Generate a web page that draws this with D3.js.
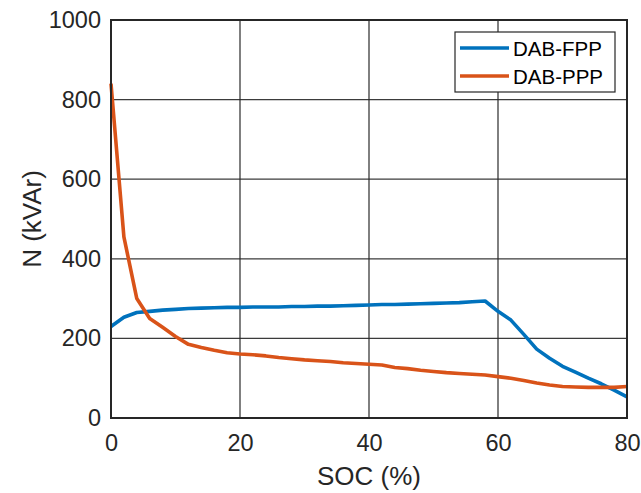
<!DOCTYPE html>
<html>
<head>
<meta charset="utf-8">
<script src="https://cdn.jsdelivr.net/npm/d3@7"></script>
<style>
  html, body { margin: 0; padding: 0; background: #fff; }
  svg { display: block; font-family: "Liberation Sans", Arial, sans-serif; }
</style>
</head>
<body>
<svg id="chart" width="641" height="493"></svg>
<script>
// State of charge (%) sample points
const soc = [0, 2, 4, 6, 8, 10, 12, 14, 16, 18, 20, 22, 24, 26, 28, 30, 32, 34, 36, 38,
             40, 42, 44, 46, 48, 50, 52, 54, 56, 58, 60, 62, 64, 66, 68, 70, 72, 74, 76, 78, 80];

// Reactive power N (kVAr) for each modulation scheme
const dabFPP = [230, 253, 265, 268, 271, 273, 275, 276, 277, 278, 278, 279, 279, 279, 280, 280, 281, 281, 282, 283,
                284, 285, 285, 286, 287, 288, 289, 290, 292, 294, 268, 246, 210, 173, 150, 130, 115, 100, 86, 70, 53];
const dabPPP = [840, 455, 300, 250, 228, 205, 185, 177, 170, 164, 161, 159, 156, 152, 149, 146, 144, 142, 139, 137,
                135, 133, 127, 124, 120, 117, 114, 112, 110, 108, 104, 100, 94, 88, 83, 79, 78, 77, 77, 77, 79];

const seriesNames = ["DAB-FPP", "DAB-PPP"];
const xTicks = [0, 20, 40, 60, 80];
const yTicks = [0, 200, 400, 600, 800, 1000];

const colors = ["#0072BD", "#D95319"];
const margin = { left: 111, top: 20, right: 641 - 627, bottom: 493 - 418 };
const W = 641, H = 493;

const svg = d3.select("#chart");
const x = d3.scaleLinear().domain([0, 80]).range([margin.left, W - margin.right]);
const y = d3.scaleLinear().domain([0, 1000]).range([H - margin.bottom, margin.top]);

// Grid
const grid = svg.append("g").attr("stroke", "#262626").attr("stroke-width", 1.3).attr("stroke-opacity", 0.9);
grid.selectAll("line.vx").data(xTicks).join("line")
  .attr("x1", d => x(d)).attr("x2", d => x(d))
  .attr("y1", y(0)).attr("y2", y(1000));
grid.selectAll("line.hy").data(yTicks).join("line")
  .attr("x1", x(0)).attr("x2", x(80))
  .attr("y1", d => y(d)).attr("y2", d => y(d));

// Axes
const xAxis = svg.append("g").attr("transform", `translate(0,${y(0)})`)
  .call(d3.axisBottom(x).tickValues(xTicks).tickSize(0).tickPadding(16).tickFormat(d3.format("d")));
const yAxis = svg.append("g").attr("transform", `translate(${x(0)},0)`)
  .call(d3.axisLeft(y).tickValues(yTicks).tickSize(0).tickPadding(10).tickFormat(d3.format("d")));
[xAxis, yAxis].forEach(a => {
  a.select(".domain").remove();
  a.selectAll("text").attr("font-size", 23.5).attr("fill", "#262626")
    .attr("font-family", "'Liberation Sans', Arial, sans-serif");
});

// Series lines
const series = [dabFPP, dabPPP];
const line = d3.line().x((d, i) => x(soc[i])).y(d => y(d));
series.forEach((vals, k) => {
  svg.append("path").datum(vals)
    .attr("fill", "none").attr("stroke", colors[k]).attr("stroke-width", 3.6)
    .attr("stroke-linejoin", "round").attr("d", line);
});

// Plot box
svg.append("rect")
  .attr("x", x(0)).attr("y", y(1000))
  .attr("width", x(80) - x(0)).attr("height", y(0) - y(1000))
  .attr("fill", "none").attr("stroke", "#262626").attr("stroke-width", 2);

// Axis titles
svg.append("text").attr("x", (x(0) + x(80)) / 2).attr("y", 485)
  .attr("text-anchor", "middle").attr("font-size", 26).attr("fill", "#262626").text("SOC (%)");
svg.append("text").attr("transform", `translate(41,${(y(0) + y(1000)) / 2}) rotate(-90)`)
  .attr("text-anchor", "middle").attr("font-size", 26).attr("fill", "#262626").text("N (kVAr)");

// Legend
const lg = svg.append("g");
lg.append("rect").attr("x", 455).attr("y", 32).attr("width", 160).attr("height", 60)
  .attr("fill", "#fff").attr("stroke", "#262626").attr("stroke-width", 1.2);
seriesNames.forEach((name, k) => {
  const yy = 48 + k * 28;
  lg.append("line").attr("x1", 460).attr("x2", 509).attr("y1", yy).attr("y2", yy)
    .attr("stroke", colors[k]).attr("stroke-width", 3.6);
  lg.append("text").attr("x", 513).attr("y", yy + 7.5).attr("font-size", 20.5)
    .attr("fill", "#000").text(name);
});
</script>
</body>
</html>
